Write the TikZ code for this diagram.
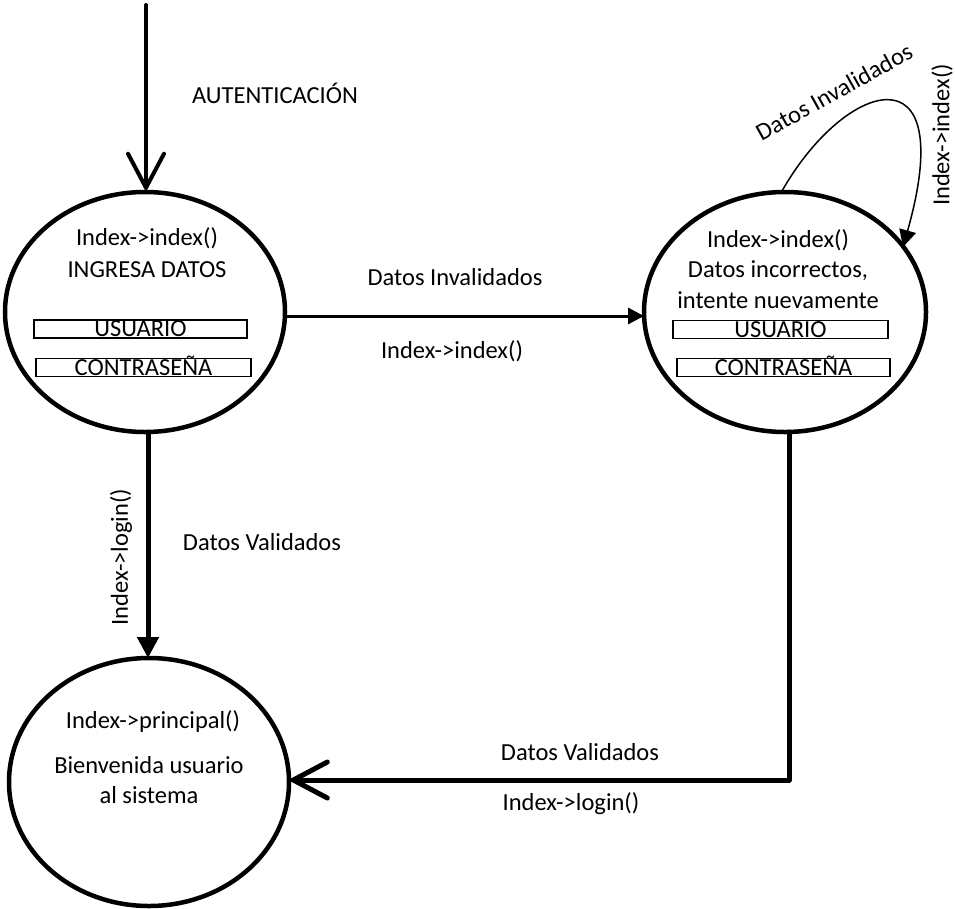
\documentclass[tikz,border=0pt]{standalone}
\usepackage{fontspec}
\setmainfont{Carlito}
\usetikzlibrary{arrows.meta}
\begin{document}
\begin{tikzpicture}[x=1pt,y=-1pt,
  every node/.style={font=\fontsize{24.5}{29}\selectfont, inner sep=0pt},
  field/.style={draw, line width=1.5pt, minimum height=18pt, text height=15.5pt, text depth=0pt},
  openhead/.style={-{Straight Barb[length=34pt,width=36pt,line cap=round]}},
  solidhead/.style={-{Triangle[length=#1,width=#1]}}
]
\useasboundingbox (0,0) rectangle (955,908);

% states
\draw[line width=4.5pt] (145,312) ellipse [x radius=140, y radius=120];
\draw[line width=4.5pt] (785,312) ellipse [x radius=141, y radius=120];
\draw[line width=4.5pt] (149,782) ellipse [x radius=140, y radius=124];

\coordinate (atop) at (146,192);
\coordinate (abot) at (148,432);
\coordinate (aright) at (285,316);
\coordinate (bleft) at (644,316);
\coordinate (btop) at (782,191);
\coordinate (bloop) at (903,247);
\coordinate (bbot) at (789,432);
\coordinate (bcorner) at (789,780);
\coordinate (ctop) at (148,658);
\coordinate (cright) at (288,780);
\coordinate (start) at (146,5);

% texts of state A
\node (a1) at (147,238) {Index->index()};
\node (a2) at (147,270) {INGRESA DATOS};
\node[field, minimum width=213pt] (au) at (140.5,329) {USUARIO};
\node[field, minimum width=215pt] (ac) at (143.5,367.5) {CONTRASEÑA};

% texts of state B
\node (b1) at (778,240) {Index->index()};
\node (b2) at (778,271) {Datos incorrectos,};
\node (b3) at (778,300) {intente nuevamente};
\node[field, minimum width=215pt] (bu) at (780.5,329.5) {USUARIO};
\node[field, minimum width=213pt] (bc) at (783.5,367.5) {CONTRASEÑA};

% texts of state C
\node (c1) at (153,722) {Index->principal()};
\node (c2) at (149,765) {Bienvenida usuario};
\node (c3) at (149,795) {al sistema};

% transitions
\draw[line width=4pt, line cap=round, openhead] (start) -- (atop);
\node (t0) at (275,93) {AUTENTICACIÓN};

\draw[line width=3pt, solidhead=16pt] (aright) -- (bleft);
\node (t1) at (455,277) {Datos Invalidados};
\node (t2) at (452,351) {Index->index()};

\draw[line width=5pt, solidhead=21pt] (abot) -- (ctop);
\node[rotate=90] (t3) at (121,557) {Index->login()};
\node (t4) at (262,542) {Datos Validados};

\draw[line width=5pt, line join=round, line cap=round, openhead] (bbot) -- (bcorner) -- (cright);
\node (t5) at (580,752) {Datos Validados};
\node (t6) at (571,804) {Index->login()};

\draw[line width=1.5pt, solidhead=17pt] (btop) .. controls (845,80) and (960,45) .. (bloop);
\node[rotate=29] (t7) at (834,92) {Datos Invalidados};
\node[rotate=90] (t8) at (942,135) {Index->index()};
\end{tikzpicture}
\end{document}
